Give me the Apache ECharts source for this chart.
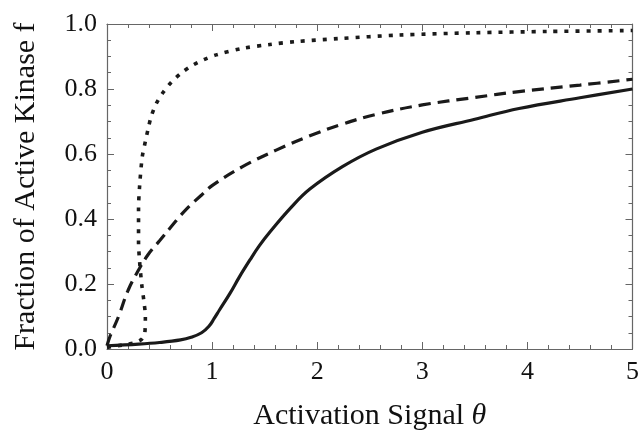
<!DOCTYPE html>
<html><head><meta charset="utf-8">
<script src="https://cdn.jsdelivr.net/npm/echarts@6/dist/echarts.min.js"></script>
<style>html,body{margin:0;padding:0;background:#fff}#c{width:642px;height:437px}</style>
</head><body><div id="c"></div>
<script>
const xTicks = [0, 1, 2, 3, 4, 5];
const yTicks = [0.0, 0.2, 0.4, 0.6, 0.8, 1.0];
const solidCurve = [[0,0.01],[0.3,0.015],[0.5,0.02],[0.7,0.028],[0.8,0.036],[0.9,0.05],[0.97,0.07],[1.02,0.094],[1.07,0.12],[1.17,0.171],[1.26,0.222],[1.36,0.274],[1.45,0.318],[1.55,0.36],[1.75,0.435],[1.93,0.492],[2.24,0.561],[2.56,0.615],[3.0,0.667],[3.5,0.707],[3.92,0.74],[4.5,0.773],[5,0.80]];
const dashedCurve = [[0,0.01],[0.03,0.04],[0.11,0.10],[0.2,0.18],[0.3,0.243],[0.39,0.29],[0.5,0.333],[0.61,0.376],[0.74,0.425],[0.9,0.474],[1.01,0.505],[1.29,0.561],[1.61,0.612],[1.93,0.656],[2.24,0.692],[2.56,0.722],[3.0,0.751],[3.5,0.774],[3.92,0.792],[4.5,0.812],[5,0.83]];
const dottedCurve = [[0,0.005],[0.1,0.01],[0.2,0.015],[0.27,0.02],[0.33,0.03],[0.36,0.05],[0.365,0.1],[0.35,0.15],[0.33,0.2],[0.31,0.27],[0.30,0.33],[0.30,0.43],[0.31,0.5],[0.335,0.59],[0.366,0.64],[0.39,0.675],[0.42,0.715],[0.47,0.756],[0.535,0.79],[0.61,0.82],[0.71,0.85],[0.82,0.874],[0.92,0.89],[1.04,0.905],[1.29,0.925],[1.55,0.937],[1.8,0.946],[2.2,0.955],[2.78,0.966],[3.5,0.973],[4.2,0.977],[5,0.98]];

const font = 'Liberation Serif';
const axisCol = '#666';
const textCol = '#111';
const chart = echarts.init(document.getElementById('c'));
function xAxisCfg(show, pos) {
  return {
    type: 'value', min: xTicks[0], max: xTicks[xTicks.length-1], interval: 1, position: pos,
    name: show ? 'Activation Signal {i|θ}' : '', nameLocation: 'middle', nameGap: 52,
    nameTextStyle: { fontFamily: font, fontSize: 30, color: textCol, rich: { i: { fontFamily: font, fontStyle: 'italic', fontSize: 30, color: textCol } } },
    axisLine: { show: true, onZero: false, lineStyle: { color: axisCol, width: 1.2 } },
    axisTick: { show: true, inside: true, length: 7, lineStyle: { color: axisCol } },
    minorTick: { show: true, splitNumber: 5, length: 4, lineStyle: { color: axisCol } },
    axisLabel: { show: show, fontFamily: font, fontSize: 26, color: textCol, margin: 10 },
    splitLine: { show: false }
  };
}
function yAxisCfg(show, pos) {
  return {
    type: 'value', min: yTicks[0], max: yTicks[yTicks.length-1], interval: 0.2, position: pos,
    name: show ? 'Fraction of Active Kinase f' : '', nameLocation: 'middle', nameGap: 66,
    nameTextStyle: { fontFamily: font, fontSize: 30, color: textCol },
    axisLine: { show: true, onZero: false, lineStyle: { color: axisCol, width: 1.2 } },
    axisTick: { show: true, inside: true, length: 7, lineStyle: { color: axisCol } },
    minorTick: { show: true, splitNumber: 4, length: 4, lineStyle: { color: axisCol } },
    axisLabel: { show: show, fontFamily: font, fontSize: 26, color: textCol, margin: 10,
      formatter: v => v.toFixed(1) },
    splitLine: { show: false }
  };
}
const lineCol = '#1a1a1a';
chart.setOption({
  animation: false,
  grid: { left: 107, right: 8, top: 24, bottom: 88 },
  xAxis: [xAxisCfg(true, 'bottom'), xAxisCfg(false, 'top')],
  yAxis: [yAxisCfg(true, 'left'), yAxisCfg(false, 'right')],
  series: [
    { type: 'line', data: solidCurve, smooth: 0.4, showSymbol: false, lineStyle: { color: lineCol, width: 3.2 } },
    { type: 'line', data: dashedCurve, smooth: 0.4, showSymbol: false, lineStyle: { color: lineCol, width: 3.2, type: [12, 7] } },
    { type: 'line', data: dottedCurve, smooth: 0.3, showSymbol: false, lineStyle: { color: lineCol, width: 3.6, type: [4, 7] } }
  ]
});
</script></body></html>
